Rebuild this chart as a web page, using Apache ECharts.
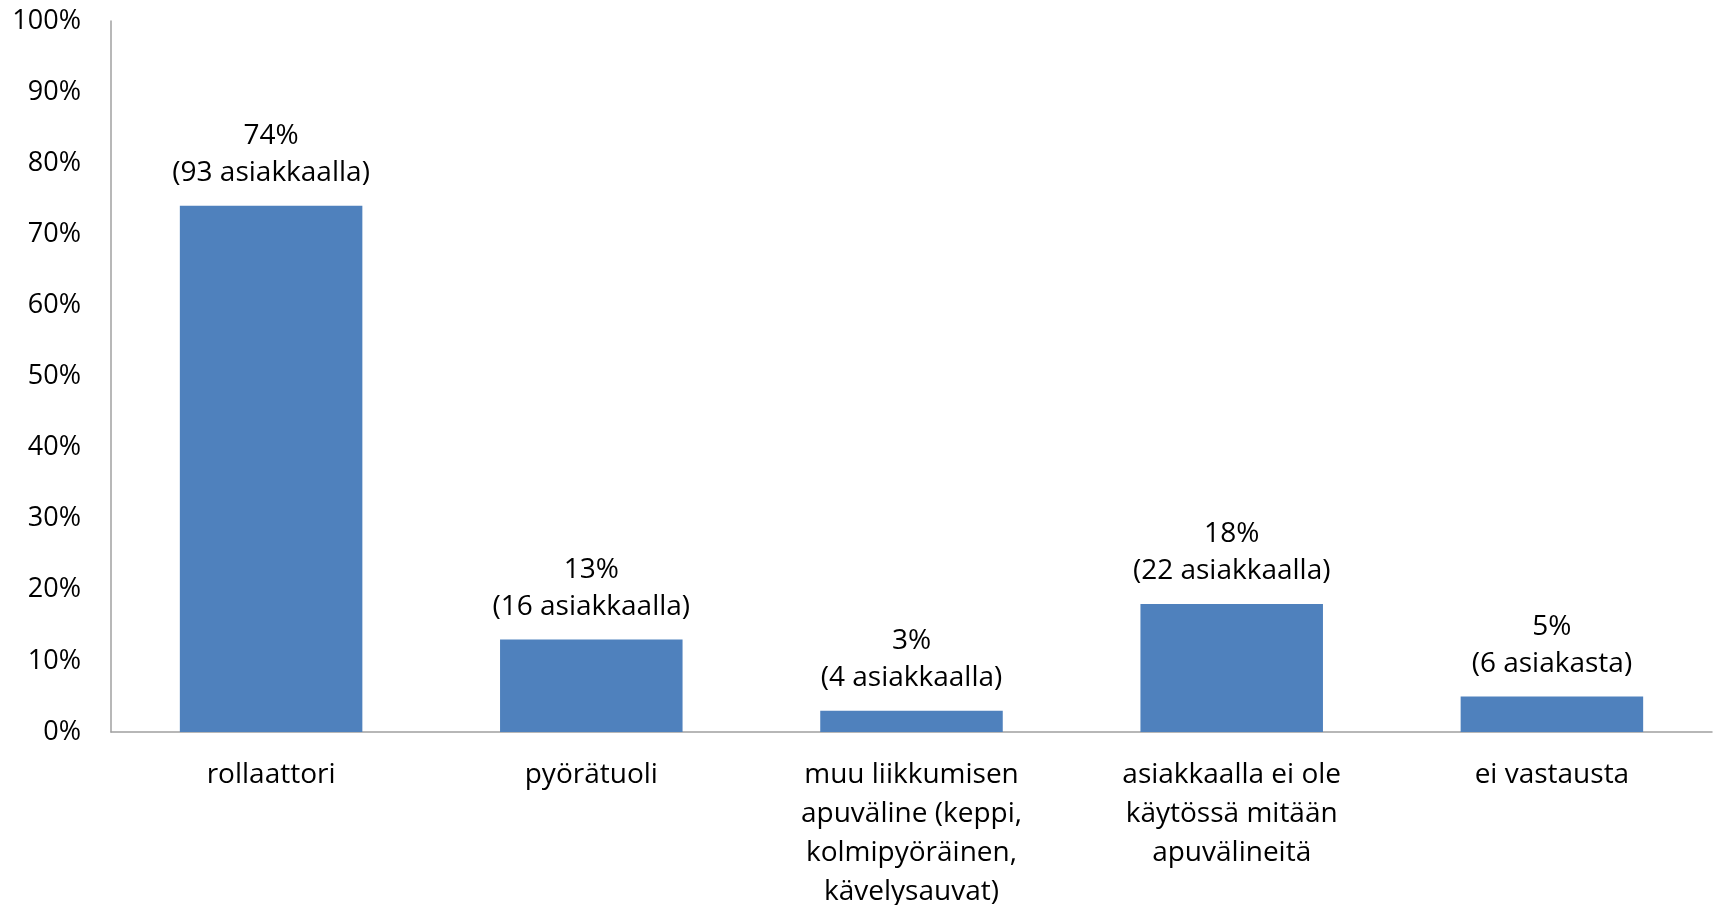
<!DOCTYPE html>
<html lang="fi">
<head>
    <meta charset="utf-8">
    <title>Apuvälineet</title>
    <script src="https://cdn.jsdelivr.net/npm/echarts@6.0.0/dist/echarts.min.js"></script>
    <style>
        html, body { margin: 0; padding: 0; background: #fff; }
        #chart { width: 1719px; height: 905px; }
    </style>
</head>
<body>
<div id="chart"></div>
<script>
    // luokat ja arvot
    var categories = [
        'rollaattori',
        'pyörätuoli',
        'muu liikkumisen\napuväline (keppi,\nkolmipyöräinen,\nkävelysauvat)',
        'asiakkaalla ei ole\nkäytössä mitään\napuvälineitä',
        'ei vastausta'
    ];
    var percents = [74, 13, 3, 18, 5];
    var counts = [93, 16, 4, 22, 6];
    var countWords = ['asiakkaalla', 'asiakkaalla', 'asiakkaalla', 'asiakkaalla', 'asiakasta'];
    var yTicks = [0, 10, 20, 30, 40, 50, 60, 70, 80, 90, 100];

    var font = '"Open Sans", sans-serif';
    var chart = echarts.init(document.getElementById('chart'));
    var option = {
        animation: false,
        grid: { left: 111, right: 7, top: 21, bottom: 173, containLabel: false, outerBoundsMode: 'none' },
        xAxis: {
            type: 'category',
            data: categories,
            axisLine: { lineStyle: { color: '#a0a0a0', width: 1.5 } },
            axisTick: { show: false },
            axisLabel: {
                interval: 0,
                margin: 24,
                color: '#000',
                fontFamily: font,
                fontSize: 28,
                lineHeight: 39
            }
        },
        yAxis: {
            type: 'value',
            min: yTicks[0],
            max: yTicks[yTicks.length - 1],
            interval: yTicks[1] - yTicks[0],
            axisLine: { show: true, lineStyle: { color: '#a0a0a0', width: 1.5 } },
            axisTick: { show: false },
            splitLine: { show: false },
            axisLabel: {
                margin: 30,
                color: '#000',
                fontFamily: font,
                fontSize: 27,
                formatter: '{value}%'
            }
        },
        series: [{
            type: 'bar',
            data: percents,
            barCategoryGap: '43%',
            itemStyle: { color: '#4f81bd' },
            label: {
                show: true,
                position: 'top',
                distance: 14,
                color: '#000',
                fontFamily: font,
                fontSize: 28,
                lineHeight: 37,
                formatter: function (p) {
                    return percents[p.dataIndex] + '%\n(' + counts[p.dataIndex] + ' ' + countWords[p.dataIndex] + ')';
                }
            }
        }]
    };
    chart.setOption(option);
</script>
</body>
</html>
